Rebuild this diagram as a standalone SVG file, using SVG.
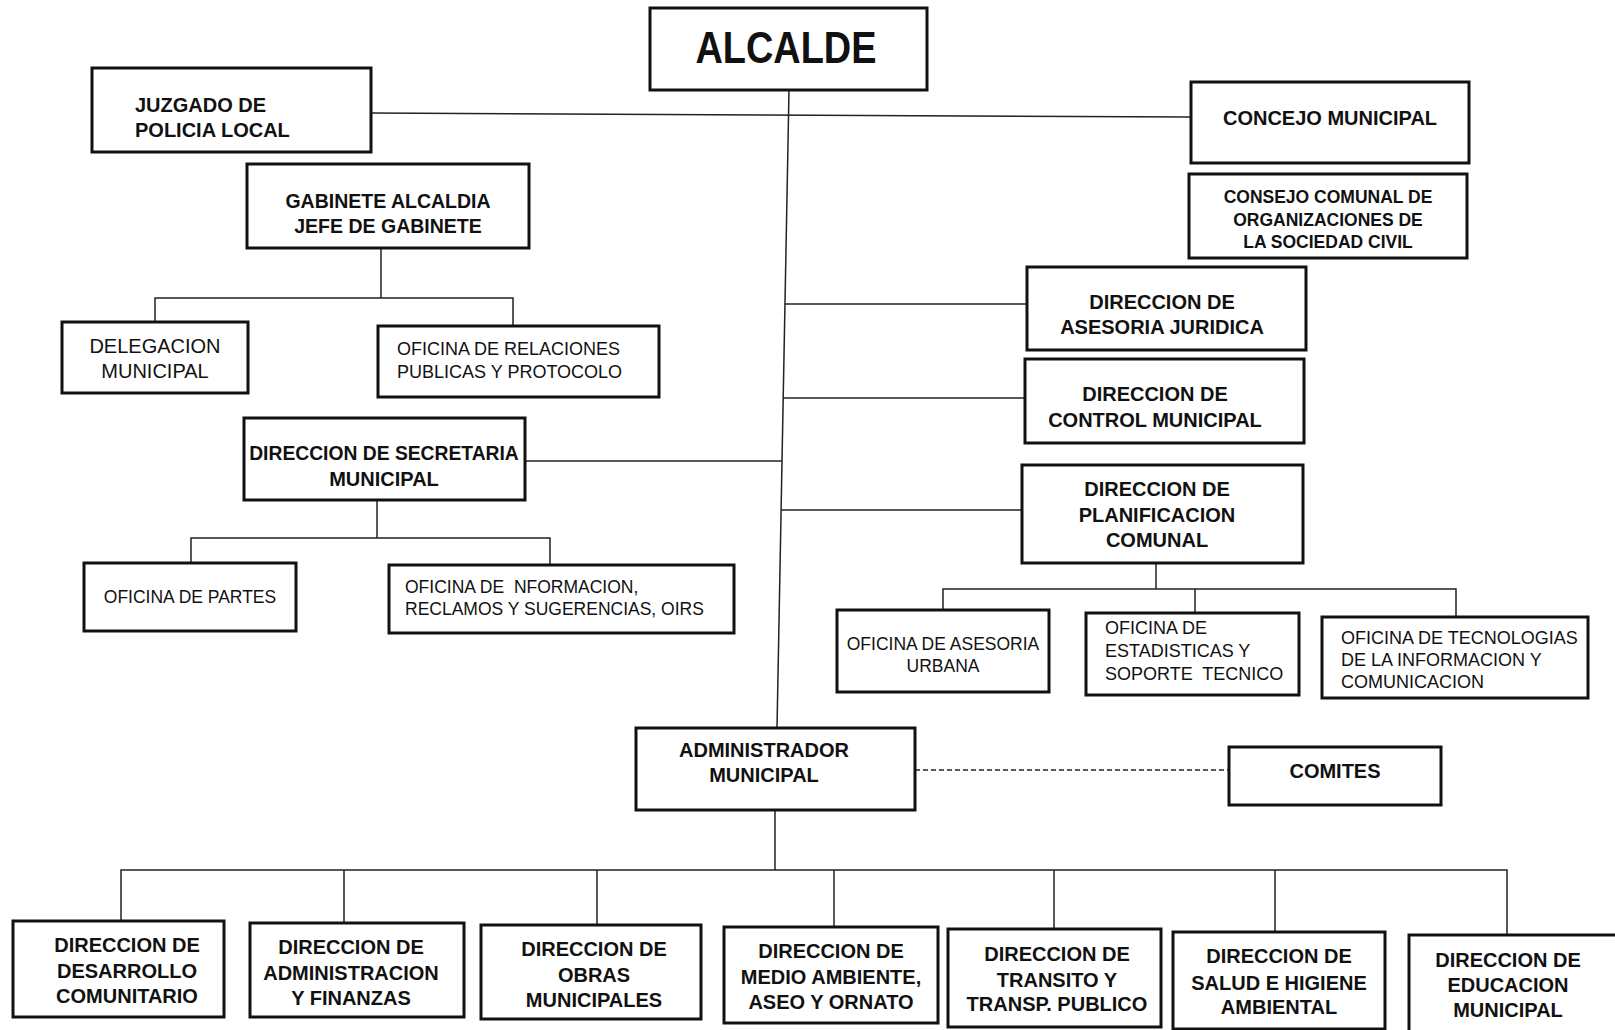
<svg xmlns="http://www.w3.org/2000/svg" width="1615" height="1030" viewBox="0 0 1615 1030">
<style>
.box{fill:#fff;stroke:#111;stroke-width:3}
.ln{stroke:#222;stroke-width:1.5;fill:none}
.dash{stroke:#222;stroke-width:1.5;fill:none;stroke-dasharray:5 3}
.b{font-family:"Liberation Sans",Arial,sans-serif;font-weight:bold;font-size:20px;fill:#111;text-anchor:middle}
.bl{font-family:"Liberation Sans",Arial,sans-serif;font-weight:bold;font-size:20px;fill:#111}
.r{font-family:"Liberation Sans",Arial,sans-serif;font-size:18px;fill:#111}
.rc{font-family:"Liberation Sans",Arial,sans-serif;font-size:18px;fill:#111;text-anchor:middle}
</style>
<rect width="1615" height="1030" fill="#fff"/>
<g id="connectors">
<line class="ln" x1="789" y1="90" x2="777" y2="728"/>
<line class="ln" x1="371" y1="113" x2="1191" y2="117"/>
<line class="ln" x1="785" y1="304" x2="1027" y2="304"/>
<line class="ln" x1="783" y1="398" x2="1025" y2="398"/>
<line class="ln" x1="525" y1="461" x2="782" y2="461"/>
<line class="ln" x1="781" y1="510" x2="1022" y2="510"/>
<polyline class="ln" points="381,248 381,298"/>
<polyline class="ln" points="155,322 155,298 513,298 513,326"/>
<polyline class="ln" points="377,500 377,538"/>
<polyline class="ln" points="191,563 191,538 550,538 550,565"/>
<polyline class="ln" points="1156,563 1156,589"/>
<polyline class="ln" points="943,610 943,589 1456,589 1456,617"/>
<line class="ln" x1="1195" y1="589" x2="1195" y2="613"/>
<line class="dash" x1="915" y1="770" x2="1229" y2="770"/>
<line class="ln" x1="775" y1="810" x2="775" y2="870"/>
<polyline class="ln" points="121,921 121,870 1507,870 1507,935"/>
<line class="ln" x1="344" y1="870" x2="344" y2="923"/>
<line class="ln" x1="597" y1="870" x2="597" y2="925"/>
<line class="ln" x1="834" y1="870" x2="834" y2="927"/>
<line class="ln" x1="1054" y1="870" x2="1054" y2="929"/>
<line class="ln" x1="1275" y1="870" x2="1275" y2="932"/>
</g>
<g id="alcalde">
<rect class="box" x="650" y="8" width="277" height="82"/>
<text class="b" x="786" y="63" style="font-size:44px" textLength="181" lengthAdjust="spacingAndGlyphs">ALCALDE</text>
</g>
<g id="juzgado">
<rect class="box" x="92" y="68" width="279" height="84"/>
<text class="bl" x="135" y="112">JUZGADO DE</text>
<text class="bl" x="135" y="137">POLICIA LOCAL</text>
</g>
<g id="concejo">
<rect class="box" x="1191" y="82" width="278" height="81"/>
<text class="b" x="1330" y="125">CONCEJO MUNICIPAL</text>
</g>
<g id="consejo">
<rect class="box" x="1189" y="174" width="278" height="84"/>
<text class="b" x="1328" y="203" style="font-size:17.5px">CONSEJO COMUNAL DE</text>
<text class="b" x="1328" y="226" style="font-size:17.5px">ORGANIZACIONES DE</text>
<text class="b" x="1328" y="248" style="font-size:17.5px">LA SOCIEDAD CIVIL</text>
</g>
<g id="gabinete">
<rect class="box" x="247" y="164" width="282" height="84"/>
<text class="b" x="388" y="208" style="font-size:19.5px">GABINETE ALCALDIA</text>
<text class="b" x="388" y="233" style="font-size:19.5px">JEFE DE GABINETE</text>
</g>
<g id="delegacion">
<rect class="box" x="62" y="322" width="186" height="71"/>
<text class="rc" x="155" y="353" style="font-size:20px">DELEGACION</text>
<text class="rc" x="155" y="378" style="font-size:20px">MUNICIPAL</text>
</g>
<g id="relaciones">
<rect class="box" x="378" y="326" width="281" height="71"/>
<text class="r" x="397" y="355">OFICINA DE RELACIONES</text>
<text class="r" x="397" y="378">PUBLICAS Y PROTOCOLO</text>
</g>
<g id="secretaria">
<rect class="box" x="244" y="418" width="281" height="82"/>
<text class="b" x="384" y="460" style="font-size:19.3px">DIRECCION DE SECRETARIA</text>
<text class="b" x="384" y="486">MUNICIPAL</text>
</g>
<g id="partes">
<rect class="box" x="84" y="563" width="212" height="68"/>
<text class="rc" x="190" y="603" style="font-size:17.5px">OFICINA DE PARTES</text>
</g>
<g id="oirs">
<rect class="box" x="389" y="565" width="345" height="68"/>
<text class="r" x="405" y="593" style="font-size:17.5px" xml:space="preserve">OFICINA DE  NFORMACION,</text>
<text class="r" x="405" y="615" style="font-size:17.5px">RECLAMOS Y SUGERENCIAS, OIRS</text>
</g>
<g id="juridica">
<rect class="box" x="1027" y="267" width="279" height="83"/>
<text class="b" x="1162" y="309">DIRECCION DE</text>
<text class="b" x="1162" y="334">ASESORIA JURIDICA</text>
</g>
<g id="control">
<rect class="box" x="1025" y="359" width="279" height="84"/>
<text class="b" x="1155" y="401">DIRECCION DE</text>
<text class="b" x="1155" y="427">CONTROL MUNICIPAL</text>
</g>
<g id="planificacion">
<rect class="box" x="1022" y="465" width="281" height="98"/>
<text class="b" x="1157" y="496">DIRECCION DE</text>
<text class="b" x="1157" y="522">PLANIFICACION</text>
<text class="b" x="1157" y="547">COMUNAL</text>
</g>
<g id="urbana">
<rect class="box" x="837" y="610" width="212" height="82"/>
<text class="rc" x="943" y="650" style="font-size:17.5px">OFICINA DE ASESORIA</text>
<text class="rc" x="943" y="672" style="font-size:17.5px">URBANA</text>
</g>
<g id="estadisticas">
<rect class="box" x="1086" y="613" width="213" height="82"/>
<text class="r" x="1105" y="634">OFICINA DE</text>
<text class="r" x="1105" y="657">ESTADISTICAS Y</text>
<text class="r" x="1105" y="680" xml:space="preserve">SOPORTE  TECNICO</text>
</g>
<g id="tecnologias">
<rect class="box" x="1322" y="617" width="266" height="81"/>
<text class="r" x="1341" y="644">OFICINA DE TECNOLOGIAS</text>
<text class="r" x="1341" y="666">DE LA INFORMACION Y</text>
<text class="r" x="1341" y="688">COMUNICACION</text>
</g>
<g id="administrador">
<rect class="box" x="636" y="728" width="279" height="82"/>
<text class="b" x="764" y="757">ADMINISTRADOR</text>
<text class="b" x="764" y="782">MUNICIPAL</text>
</g>
<g id="comites">
<rect class="box" x="1229" y="747" width="212" height="58"/>
<text class="b" x="1335" y="778">COMITES</text>
</g>
<g id="desarrollo">
<rect class="box" x="13" y="921" width="211" height="96"/>
<text class="b" x="127" y="952">DIRECCION DE</text>
<text class="b" x="127" y="978">DESARROLLO</text>
<text class="b" x="127" y="1003">COMUNITARIO</text>
</g>
<g id="finanzas">
<rect class="box" x="250" y="923" width="214" height="94"/>
<text class="b" x="351" y="954">DIRECCION DE</text>
<text class="b" x="351" y="980">ADMINISTRACION</text>
<text class="b" x="351" y="1005">Y FINANZAS</text>
</g>
<g id="obras">
<rect class="box" x="481" y="925" width="220" height="94"/>
<text class="b" x="594" y="956">DIRECCION DE</text>
<text class="b" x="594" y="982">OBRAS</text>
<text class="b" x="594" y="1007">MUNICIPALES</text>
</g>
<g id="medio">
<rect class="box" x="724" y="927" width="214" height="96"/>
<text class="b" x="831" y="958">DIRECCION DE</text>
<text class="b" x="831" y="984">MEDIO AMBIENTE,</text>
<text class="b" x="831" y="1009">ASEO Y ORNATO</text>
</g>
<g id="transito">
<rect class="box" x="948" y="929" width="213" height="98"/>
<text class="b" x="1057" y="961">DIRECCION DE</text>
<text class="b" x="1057" y="987">TRANSITO Y</text>
<text class="b" x="1057" y="1011">TRANSP. PUBLICO</text>
</g>
<g id="salud">
<rect class="box" x="1173" y="932" width="212" height="97"/>
<text class="b" x="1279" y="963">DIRECCION DE</text>
<text class="b" x="1279" y="990">SALUD E HIGIENE</text>
<text class="b" x="1279" y="1014">AMBIENTAL</text>
</g>
<g id="educacion">
<rect class="box" x="1409" y="935" width="215" height="100"/>
<text class="b" x="1508" y="967">DIRECCION DE</text>
<text class="b" x="1508" y="992">EDUCACION</text>
<text class="b" x="1508" y="1017">MUNICIPAL</text>
</g>
</svg>
